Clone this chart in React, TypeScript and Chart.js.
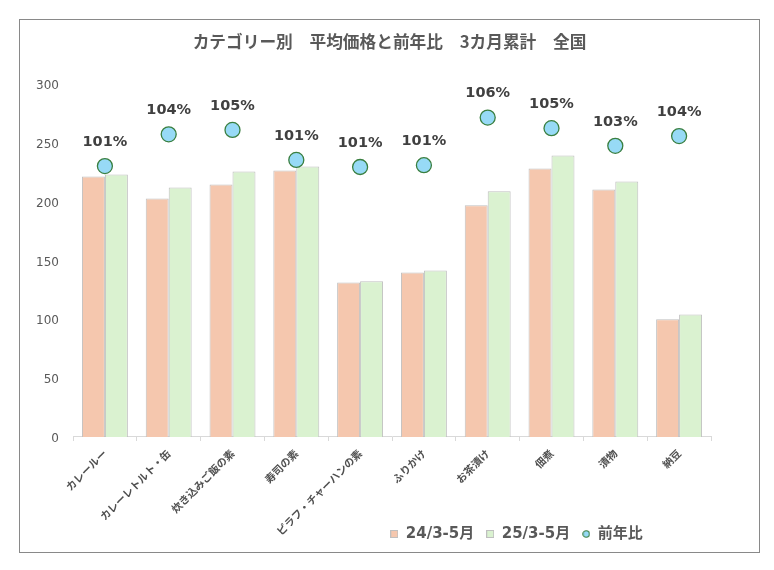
import React, { useEffect, useRef } from "react";
import { Chart, registerables } from "chart.js";

Chart.register(...registerables);

const TITLE = "カテゴリー別　平均価格と前年比　3カ月累計　全国";
const categories = [
  "カレールー",
  "カレーレトルト・缶",
  "炊き込みご飯の素",
  "寿司の素",
  "ピラフ・チャーハンの素",
  "ふりかけ",
  "お茶漬け",
  "佃煮",
  "漬物",
  "納豆",
];
const seriesLabels = ["24/3-5月", "25/3-5月", "前年比"];
const price2024 = [221.5, 202.8, 214.7, 226.6, 131.4, 139.9, 196.9, 228.3, 210.4, 100.0];
const price2025 = [223.2, 212.1, 225.7, 230.0, 132.3, 141.6, 208.8, 239.3, 217.2, 104.2];
const yoyRatio = [100.7, 104.3, 104.8, 101.4, 100.6, 100.8, 106.2, 105.0, 103.0, 104.1];
const priceAxis = { min: 0, max: 300, step: 50 };
const ratioAxis = { min: 70, max: 110 };

const FONT_LATIN = '"DejaVu Sans", "Noto Sans CJK JP", sans-serif';
const FONT_JP = '"Noto Sans CJK JP", "DejaVu Sans", sans-serif';

const COLOR_2024 = "#F5C7AE";
const COLOR_2025 = "#DAF2D0";
const BAR_BORDER = "#BFBFBF";
const DOT_FILL = "#97DAF6";
const DOT_BORDER = "#3A7F40";
const TEXT = "#595959";

function makeSquare(fill: string) {
  const c = document.createElement("canvas");
  c.width = 8;
  c.height = 8;
  const g = c.getContext("2d")!;
  g.fillStyle = fill;
  g.fillRect(0, 0, 8, 8);
  g.strokeStyle = BAR_BORDER;
  g.lineWidth = 1;
  g.strokeRect(0.5, 0.5, 7, 7);
  return c;
}

function makeDot() {
  const c = document.createElement("canvas");
  c.width = 8;
  c.height = 8;
  const g = c.getContext("2d")!;
  g.beginPath();
  g.arc(4, 4, 3.2, 0, Math.PI * 2);
  g.fillStyle = DOT_FILL;
  g.fill();
  g.strokeStyle = DOT_BORDER;
  g.lineWidth = 1.1;
  g.stroke();
  return c;
}

const ratioLabelPlugin = {
  id: "ratioLabels",
  afterDatasetsDraw(chart: any) {
    const meta = chart.getDatasetMeta(2);
    const ctx = chart.ctx;
    ctx.save();
    ctx.font = `bold 14.5px ${FONT_LATIN}`;
    ctx.fillStyle = "#404040";
    ctx.textAlign = "center";
    ctx.textBaseline = "middle";
    meta.data.forEach((pt: any, i: number) => {
      ctx.fillText(`${Math.round(yoyRatio[i])}%`, pt.x, pt.y - 24);
    });
    ctx.restore();
  },
};

// Place the legend to the right of centre, in the empty band below the axis labels
const legendPlacePlugin = {
  id: "legendPlace",
  afterLayout(chart: any) {
    const l = chart.legend;
    if (l) {
      l.left = 127;
      l.right = chart.width + 127;
      l.width = chart.width;
      l.top = 494.5;
      l.bottom = chart.height;
      l.height = l.bottom - l.top;
    }
  },
};

export default function App() {
  const ref = useRef<HTMLCanvasElement | null>(null);

  useEffect(() => {
    if (!ref.current) return;
    const icons = [makeSquare(COLOR_2024), makeSquare(COLOR_2025), makeDot()];
    const chart = new Chart(ref.current, {
      type: "bar",
      data: {
        labels: categories,
        datasets: [
          {
            type: "bar",
            label: seriesLabels[0],
            data: price2024,
            backgroundColor: COLOR_2024,
            borderColor: BAR_BORDER,
            borderWidth: 1,
            categoryPercentage: 0.72,
            barPercentage: 1,
            yAxisID: "y",
            order: 1,
          },
          {
            type: "bar",
            label: seriesLabels[1],
            data: price2025,
            backgroundColor: COLOR_2025,
            borderColor: BAR_BORDER,
            borderWidth: 1,
            categoryPercentage: 0.72,
            barPercentage: 1,
            yAxisID: "y",
            order: 1,
          },
          {
            type: "line",
            label: seriesLabels[2],
            data: yoyRatio,
            showLine: false,
            pointStyle: "circle",
            pointRadius: 7.5,
            pointBorderWidth: 1.3,
            pointBackgroundColor: DOT_FILL,
            pointBorderColor: DOT_BORDER,
            yAxisID: "y1",
            order: 0,
          },
        ] as any,
      },
      options: {
        animation: false,
        responsive: false,
        maintainAspectRatio: false,
        layout: { padding: { left: 0, right: 0, top: 0, bottom: 0 } },
        plugins: {
          tooltip: { enabled: false },
          title: {
            display: true,
            text: TITLE,
            color: TEXT,
            font: { family: FONT_JP, size: 16.7, weight: "bold" },
            padding: { top: 12, bottom: 32 },
          },
          legend: {
            position: "bottom",
            maxHeight: 0.001,
            labels: {
              usePointStyle: true,
              boxWidth: 8,
              boxHeight: 8,
              padding: 12,
              color: TEXT,
              font: { family: FONT_LATIN, size: 15, weight: "bold" },
              generateLabels: () =>
                seriesLabels.map((t, i) => ({
                  text: t,
                  pointStyle: icons[i],
                  fillStyle: "transparent",
                  strokeStyle: "transparent",
                  lineWidth: 0,
                  hidden: false,
                  datasetIndex: i,
                  fontColor: TEXT,
                })) as any,
            },
          },
        },
        scales: {
          x: {
            offset: true,
            grid: {
              display: true,
              drawOnChartArea: false,
              drawTicks: true,
              tickLength: 4,
              color: "#D9D9D9",
              offset: true,
            },
            border: { display: true, color: "#D9D9D9", width: 1 },
            ticks: {
              autoSkip: false,
              maxRotation: 45,
              minRotation: 45,
              padding: 6,
              color: "#505050",
              font: { family: FONT_JP, size: 10.5, weight: "bold" },
            },
            afterFit: (s: any) => {
              s.height = 115;
            },
          },
          y: {
            position: "left",
            min: priceAxis.min,
            max: priceAxis.max,
            ticks: {
              stepSize: priceAxis.step,
              padding: 14,
              labelOffset: 2,
              color: TEXT,
              font: { family: FONT_LATIN, size: 12 },
            },
            grid: { display: false, drawTicks: false },
            border: { display: false },
            afterFit: (s: any) => {
              s.width = 53;
            },
          },
          y1: {
            position: "right",
            display: true,
            min: ratioAxis.min,
            max: ratioAxis.max,
            ticks: { display: false },
            grid: { display: false, drawTicks: false },
            border: { display: false },
            afterFit: (s: any) => {
              s.width = 48;
            },
          },
        },
      } as any,
      plugins: [ratioLabelPlugin, legendPlacePlugin],
    });
    return () => chart.destroy();
  }, []);

  return (
    <div
      style={{
        position: "absolute",
        left: 19,
        top: 19,
        width: 739,
        height: 532,
        border: "1px solid #898989",
        background: "#fff",
      }}
    >
      <canvas ref={ref} width={739} height={532} style={{ display: "block" }} />
    </div>
  );
}
